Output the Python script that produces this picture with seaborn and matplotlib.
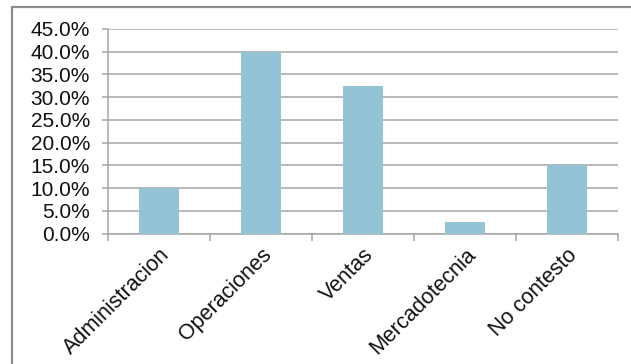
import matplotlib
matplotlib.use("Agg")
import matplotlib.pyplot as plt
from matplotlib.patches import Rectangle
from matplotlib.ticker import FuncFormatter, MultipleLocator
import seaborn as sns
import pandas as pd

categories = ["Administracion", "Operaciones", "Ventas", "Mercadotecnia", "No contesto"]
percentages = [10.0, 40.0, 32.5, 2.5, 15.0]

sns.set_theme(style="white")
plt.rcParams["font.family"] = ["Liberation Sans", "DejaVu Sans"]

df = pd.DataFrame({"area": categories, "pct": percentages})

fig = plt.figure(figsize=(6.31, 3.64), dpi=100)
ax = fig.add_axes([108 / 631, 1 - 233.5 / 364, 510 / 631, 204.5 / 364])

sns.barplot(data=df, x="area", y="pct", color="#93C3D4", saturation=1,
            width=0.39, linewidth=0, ax=ax, zorder=3)

grid_c = "#a6a6a6"
ax.set_ylim(0, 45)
ax.set_xlim(-0.5, len(categories) - 0.5)
ax.yaxis.set_major_locator(MultipleLocator(5))
ax.yaxis.set_major_formatter(FuncFormatter(lambda v, _: f"{v:.1f}%"))
ax.grid(axis="y", color=grid_c, linewidth=1.1, zorder=0)
ax.set_axisbelow(True)
ax.set_xlabel("")
ax.set_ylabel("")

for side in ("top", "right"):
    ax.spines[side].set_visible(False)
for side in ("left", "bottom"):
    ax.spines[side].set_color(grid_c)
    ax.spines[side].set_linewidth(1.1)

ax.tick_params(axis="y", which="major", left=True, length=4, width=1.1,
               color=grid_c, pad=9, labelsize=15, labelcolor="#111111")
ax.set_xticks(range(len(categories)))
ax.set_xticklabels(categories, rotation=45, ha="right",
                   rotation_mode="anchor", fontsize=15.5, color="#111111")
ax.tick_params(axis="x", which="major", length=0, pad=8)
ax.set_xticks([i - 0.5 for i in range(len(categories) + 1)], minor=True)
ax.tick_params(axis="x", which="minor", bottom=True, length=5, width=1.1,
               color=grid_c)

# Chart-area frame
fig.patches.append(Rectangle((12 / 631, -0.1), 1.2, 1 - 6.5 / 364 + 0.1,
                             transform=fig.transFigure, fill=False,
                             edgecolor="#8c8c8c", linewidth=1.6))

fig.savefig("out.png", dpi=100)
